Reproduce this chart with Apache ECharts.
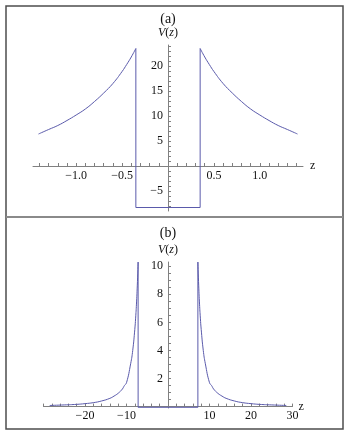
<!DOCTYPE html>
<html>
<head>
<meta charset="utf-8">
<script src="https://cdn.jsdelivr.net/npm/echarts@6/dist/echarts.min.js"></script>
<style>
  html, body { margin: 0; padding: 0; background: #fff; }
  #chart { width: 350px; height: 436px; }
</style>
</head>
<body>
<div id="chart"></div>
<script>
const zCurveA = [0.35, 0.4, 0.45, 0.5, 0.6, 0.7, 0.8, 0.9, 1.0, 1.1, 1.2, 1.3, 1.41]
const vCurveA = [23.5, 21.8, 20.3, 18.9, 16.5, 14.6, 12.9, 11.4, 10.2, 9.1, 8.1, 7.3, 6.4]
const wellEdgeA = 0.35
const wellBottomA = -8.3
const xLabelsA = [-1, -0.5, 0.5, 1]
const yLabelsA = [-5, 5, 10, 15, 20]

// Panel (b)
const zCurveB = [7.2, 7.4, 7.6, 7.8, 8.0, 8.5, 9, 10, 10.5, 11, 12, 13, 14, 16, 18, 20, 22, 25, 28.5]
const vCurveB = [10.3, 8.6, 7.3, 6.3, 5.5, 4.0, 3.05, 1.7, 1.5, 1.25, 0.95, 0.75, 0.59, 0.4, 0.28, 0.21, 0.16, 0.12, 0.08]
const wellEdgeB = 7.2
const wellBottomB = -0.05
const xLabelsB = [-20, -10, 10, 20, 30]
const yLabelsB = [2, 4, 6, 8, 10]

const lineColor = '#5a5aab'
const axisColor = '#808080'
const textColor = '#111'
const serif = 'Liberation Serif'

// plot boxes and axis ranges of the two panels
const panels = [
  { left: 33, top: 45, width: 270, height: 166, x: [-1.47, 1.47], y: [-9, 24.2],
    xTicks: [-1.4, 1.4, 0.1], yTicks: [-8, 24, 1], xLabels: xLabelsA, yLabels: yLabelsA, digits: 1, labelMargin: 4, nameGap: 7 },
  { left: 43.5, top: 262, width: 249, height: 146, x: [-30, 30], y: [-0.1, 10.3],
    xTicks: [-30, 30, 2], yTicks: [0.5, 10, 0.5], xLabels: xLabelsB, yLabels: yLabelsB, digits: 0, labelMargin: 3, nameGap: 6 }
]

// tick positions between from and to, every step
const steps = ([from, to, step]) => {
  const out = []
  for (let i = Math.ceil(from / step - 1e-9); i * step <= to + 1e-9; i++) out.push(+(i * step).toFixed(6))
  return out
}

const fmt = digits => v => (v < 0 ? '\u2212' : '') + Math.abs(v).toFixed(digits)

const mirrored = (zs, vs) => zs.map((z, i) => [-z, vs[i]]).reverse()
const branch = (zs, vs) => zs.map((z, i) => [z, vs[i]])
const well = (edge, bottom, top) => [[-edge, top], [-edge, bottom], [edge, bottom], [edge, top]]

const labelStyle = { color: textColor, fontFamily: serif, fontSize: 12 }
const hidden = (g, [min, max]) => ({ type: 'value', gridIndex: g, min, max, show: false })

// main axes first (grid 0 and 1): line and ticks cross at the origin
const grids = panels.map(p => ({ left: p.left, top: p.top, width: p.width, height: p.height }))
const xAxes = panels.map((p, i) => ({
  type: 'value', gridIndex: i, position: 'bottom', min: p.x[0], max: p.x[1],
  axisLine: { show: true, onZero: true, lineStyle: { color: axisColor, width: 1 } },
  axisTick: { show: true, inside: true, length: 3, customValues: steps(p.xTicks), lineStyle: { color: axisColor } },
  axisLabel: { show: false },
  splitLine: { show: false },
  name: 'z', nameLocation: 'end', nameGap: p.nameGap,
  nameTextStyle: { ...labelStyle, verticalAlign: 'middle' }
}))
const yAxes = panels.map((p, i) => ({
  type: 'value', gridIndex: i, position: 'left', min: p.y[0], max: p.y[1],
  axisLine: { show: true, onZero: true, lineStyle: { color: axisColor, width: 1 } },
  axisTick: { show: true, inside: true, length: 3, customValues: steps(p.yTicks), lineStyle: { color: axisColor } },
  axisLabel: { show: false },
  splitLine: { show: false },
  name: '{i|V}({i|z})', nameLocation: 'end', nameGap: 6,
  nameTextStyle: { ...labelStyle, align: 'center', rich: { i: { ...labelStyle, fontStyle: 'italic' } } }
}))

// label-only axes on helper grids whose edges run along the zero lines
panels.forEach(p => {
  const [xmin, xmax] = p.x
  const [ymin, ymax] = p.y
  const zeroX = p.left + p.width * (0 - xmin) / (xmax - xmin)
  const zeroY = p.top + p.height * ymax / (ymax - ymin)

  const gx = grids.length
  grids.push({ left: p.left, top: p.top, width: p.width, height: zeroY - p.top })
  xAxes.push({
    type: 'value', gridIndex: gx, position: 'bottom', min: xmin, max: xmax,
    axisLine: { show: false }, axisTick: { show: false }, splitLine: { show: false },
    axisLabel: { show: true, customValues: p.xLabels, formatter: fmt(p.digits), margin: p.labelMargin, ...labelStyle }
  })
  yAxes.push(hidden(gx, [0, 1]))

  const gy = grids.length
  grids.push({ left: zeroX, top: p.top, width: p.left + p.width - zeroX, height: p.height })
  yAxes.push({
    type: 'value', gridIndex: gy, position: 'left', min: ymin, max: ymax,
    axisLine: { show: false }, axisTick: { show: false }, splitLine: { show: false },
    axisLabel: { show: true, customValues: p.yLabels, formatter: fmt(0), margin: 5, ...labelStyle }
  })
  xAxes.push(hidden(gy, [0, 1]))
})

const curve = (g, data, smooth) => ({
  type: 'line', xAxisIndex: g, yAxisIndex: g, data, smooth,
  showSymbol: false, symbol: 'none', silent: true,
  lineStyle: { color: lineColor, width: 1 }
})

const chart = echarts.init(document.getElementById('chart'), null, { renderer: 'canvas' })

chart.setOption({
  animation: false,
  backgroundColor: '#fff',
  title: [
    { text: '(a)', left: 168, top: 12, textAlign: 'center', padding: 0,
      textStyle: { fontFamily: serif, fontSize: 14, fontWeight: 'normal', color: textColor } },
    { text: '(b)', left: 168, top: 226, textAlign: 'center', padding: 0,
      textStyle: { fontFamily: serif, fontSize: 14, fontWeight: 'normal', color: textColor } }
  ],
  grid: grids,
  xAxis: xAxes,
  yAxis: yAxes,
  series: [
    curve(0, mirrored(zCurveA, vCurveA), 0.5),
    curve(0, well(wellEdgeA, wellBottomA, vCurveA[0]), false),
    curve(0, branch(zCurveA, vCurveA), 0.5),
    curve(1, mirrored(zCurveB, vCurveB), 0.5),
    curve(1, well(wellEdgeB, wellBottomB, vCurveB[0]), false),
    curve(1, branch(zCurveB, vCurveB), 0.5)
  ],
  graphic: [
    { type: 'rect', shape: { x: 6, y: 6, width: 337, height: 423 }, silent: true,
      style: { fill: 'none', stroke: '#4d4d4d', lineWidth: 1.5 } },
    { type: 'line', shape: { x1: 6, y1: 217, x2: 343, y2: 217 }, silent: true,
      style: { stroke: '#8a8a8a', lineWidth: 2 } }
  ]
})
</script>
</body>
</html>
